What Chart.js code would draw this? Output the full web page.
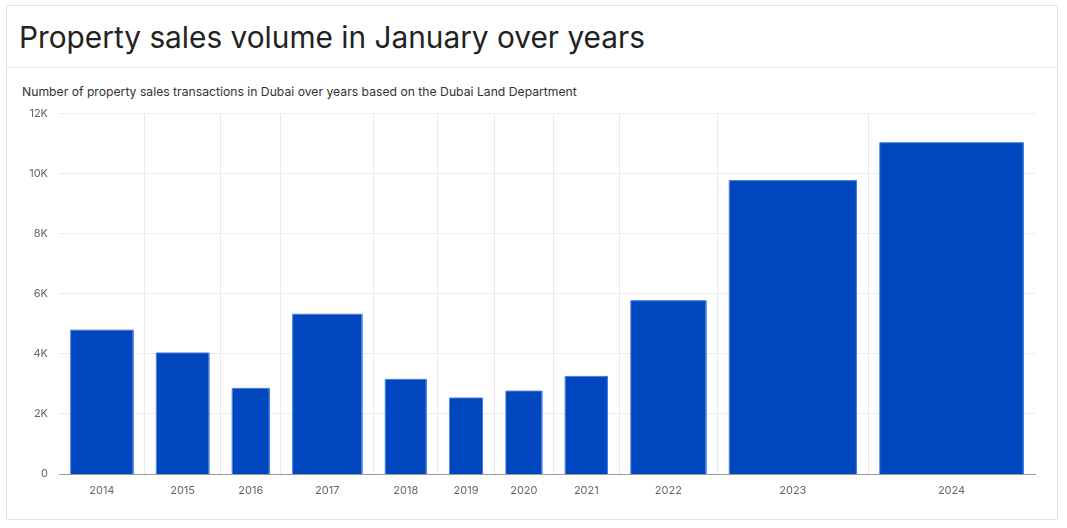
<!DOCTYPE html>
<html>
<head>
<meta charset="utf-8">
<script src="https://cdn.jsdelivr.net/npm/chart.js@4.4.1/dist/chart.umd.min.js"></script>
<style>
  html, body { margin: 0; padding: 0; background: #fff; }
  body { width: 1067px; height: 528px; position: relative; overflow: hidden; font-family: Inter, "Open Sans", sans-serif; }
  .card { position: absolute; left: 6px; top: 5px; width: 1052px; height: 515px; border: 1px solid #e2e2e2; box-sizing: border-box; }
  .title { position: absolute; left: 12px; top: 13px; font-size: 29.8px; color: #222; white-space: nowrap; }
  .divider { position: absolute; left: 0; right: 0; top: 61px; border-top: 1px solid #ebebeb; }
  .subtitle { position: absolute; left: 15px; top: 78px; font-size: 12.2px; color: #333; white-space: nowrap; }
  #chart { position: absolute; left: 7px; top: 96px; }
</style>
</head>
<body>
<div class="card">
  <div class="title">Property sales volume in January over years</div>
  <div class="divider"></div>
  <div class="subtitle">Number of property sales transactions in Dubai over years based on the Dubai Land Department</div>
</div>
<canvas id="chart" width="1050" height="422"></canvas>
<script>
const years = ['2014', '2015', '2016', '2017', '2018', '2019', '2020', '2021', '2022', '2023', '2024'];
const sales = [4790, 4030, 2850, 5320, 3150, 2530, 2760, 3250, 5770, 9770, 11030];
const yTicks = [0, 2000, 4000, 6000, 8000, 10000, 12000];

// bar width is proportional to the value, with a fixed gap between bars
const gap = 1795;
const barColor = 'rgb(0, 70, 190)';
const barEdge = 'rgb(70, 125, 225)';

const centers = [];
const boundaries = [];
let pos = 0;
const datasets = sales.map((v, i) => {
    const left = pos + gap / 2;
    const right = left + v;
    centers.push((left + right) / 2);
    pos = right + gap / 2;
    if (i < sales.length - 1) boundaries.push(pos);
    return {
        label: years[i],
        data: [{ x: left, y: 0 }, { x: left, y: v }, { x: right, y: v }, { x: right, y: 0 }],
        fill: 'origin',
        backgroundColor: barColor,
        borderColor: barEdge,
        borderWidth: 1,
        pointRadius: 0,
        tension: 0
    };
});
const total = pos;
const boundarySet = new Set(boundaries);

new Chart(document.getElementById('chart'), {
    type: 'line',
    data: { datasets: datasets },
    options: {
        responsive: false,
        animation: false,
        layout: { padding: { top: 9, right: 22, bottom: 0, left: 0 } },
        plugins: { legend: { display: false }, tooltip: { enabled: false } },
        scales: {
            x: {
                type: 'linear',
                min: 0,
                max: total,
                afterBuildTicks: (scale) => {
                    scale.ticks = boundaries.concat(centers).sort((a, b) => a - b).map(v => ({ value: v }));
                },
                afterFit: (scale) => { scale.height = 44; },
                ticks: {
                    autoSkip: false,
                    maxRotation: 0,
                    padding: 10,
                    color: '#666',
                    font: { family: 'Inter', size: 11 },
                    callback: (value) => {
                        const i = centers.indexOf(value);
                        return i >= 0 ? years[i] : '';
                    }
                },
                grid: {
                    drawTicks: false,
                    color: (ctx) => (ctx.tick && boundarySet.has(ctx.tick.value)) ? '#e9e9e9' : 'rgba(0,0,0,0)'
                },
                border: { display: true, color: '#9a9a9a', width: 1 }
            },
            y: {
                min: 0,
                max: 12000,
                afterBuildTicks: (scale) => { scale.ticks = yTicks.map(v => ({ value: v })); },
                afterFit: (scale) => { scale.width = 52; },
                ticks: {
                    padding: 11,
                    color: '#666',
                    font: { family: 'Inter', size: 11 },
                    callback: (v) => v === 0 ? '0' : (v / 1000) + 'K'
                },
                grid: { drawTicks: false, color: '#ececec' },
                border: { display: false }
            }
        }
    }
});
</script>
</body>
</html>
